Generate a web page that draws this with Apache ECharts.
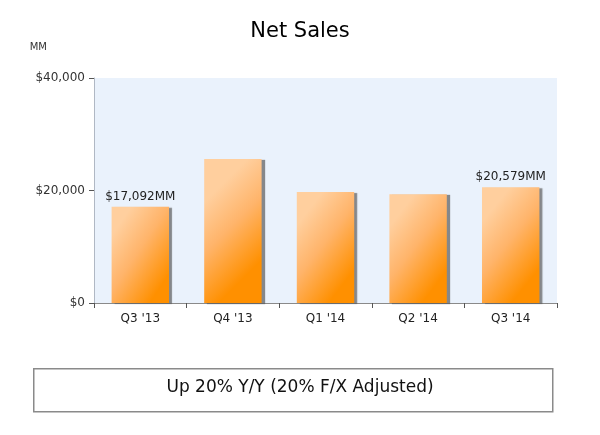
<!DOCTYPE html>
<html>
<head>
<meta charset="utf-8">
<script src="https://cdn.jsdelivr.net/npm/echarts@6/dist/echarts.min.js"></script>
<style>html,body{margin:0;padding:0;background:#fff}#c{width:600px;height:435px}</style>
</head>
<body>
<div id="c"></div>
<script>
const categories = ["Q3 '13", "Q4 '13", "Q1 '14", "Q2 '14", "Q3 '14"];
const netSales = [17092, 25587, 19741, 19340, 20579];
const labelled = [true, false, false, false, true];
const yTicks = [0, 20000, 40000];

const chart = echarts.init(document.getElementById('c'));
const font = 'DejaVu Sans';
const barColor = new echarts.graphic.LinearGradient(0, 0.3, 1, 0.7, [
  {offset: 0, color: '#ffcf9e'},
  {offset: 0.45, color: '#ffb46a'},
  {offset: 1, color: '#ff9000'}
]);
chart.setOption({
  animation: false,
  title: {text: 'Net Sales', left: 'center', top: 16,
    textStyle: {fontFamily: font, fontSize: 21, fontWeight: 'normal', color: '#000'}},
  grid: {left: 94, right: 43, top: 78, bottom: 132, show: true,
    backgroundColor: '#eaf2fc', borderWidth: 0},
  xAxis: {type: 'category', data: categories,
    axisLine: {lineStyle: {color: '#8a8a8a'}},
    axisTick: {show: true, length: 5, lineStyle: {color: '#555'}},
    axisLabel: {fontFamily: font, fontSize: 12, color: '#222', margin: 10}},
  yAxis: {type: 'value', min: 0, max: 40000, interval: 20000,
    name: 'MM', nameLocation: 'end', nameGap: 26,
    nameTextStyle: {fontFamily: font, fontSize: 10, color: '#333', align: 'right', padding: [0, 47, 0, 0]},
    axisLine: {show: true, lineStyle: {color: '#b0b8c4'}},
    axisTick: {show: true, length: 5, lineStyle: {color: '#555'}},
    splitLine: {show: false},
    axisLabel: {fontFamily: font, fontSize: 12, color: '#333', margin: 9,
      formatter: v => yTicks.includes(v) ? '$' + v.toLocaleString('en-US') : ''}},
  series: [{
    type: 'bar', barWidth: '62%',
    data: netSales.map((v, i) => ({value: v,
      label: {show: labelled[i], position: 'top', distance: 4,
        formatter: p => '$' + p.value.toLocaleString('en-US') + 'MM',
        fontFamily: font, fontSize: 12, color: '#222'}})),
    itemStyle: {color: barColor, shadowColor: 'rgba(90,90,90,0.7)', shadowOffsetX: 3, shadowOffsetY: 1, shadowBlur: 1}
  }],
  graphic: [{
    type: 'rect', left: 33, top: 368,
    shape: {width: 519, height: 43},
    style: {fill: '#fff', stroke: '#8a8a8a', lineWidth: 1.5}
  }, {
    type: 'text', left: 'center', top: 379,
    style: {text: 'Up 20% Y/Y (20% F/X Adjusted)', fontFamily: font, fontSize: 17, fill: '#111'}
  }]
});
</script>
</body>
</html>
